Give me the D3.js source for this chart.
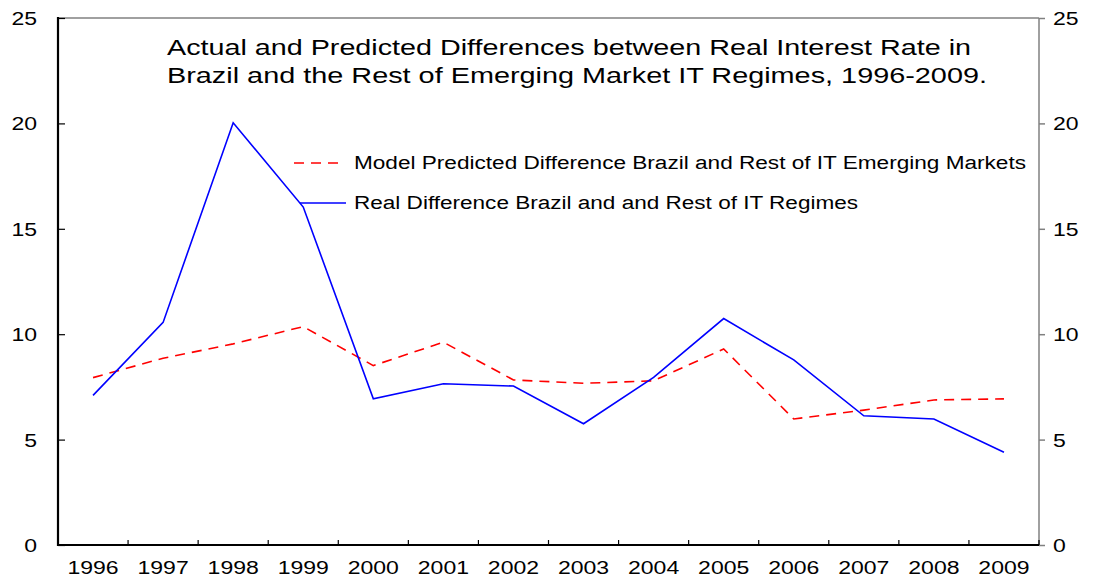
<!DOCTYPE html>
<html>
<head>
<meta charset="utf-8">
<script src="https://cdn.jsdelivr.net/npm/d3@7"></script>
<style>
  body { margin: 0; background: #fff; }
  text { font-family: "Liberation Sans", Arial, sans-serif; fill: #000; }
</style>
</head>
<body>
<svg id="chart" width="1094" height="579"></svg>
<script>
var years = ["1996", "1997", "1998", "1999", "2000", "2001", "2002",
  "2003", "2004", "2005", "2006", "2007", "2008", "2009"];
var predicted = [7.94, 8.86, 9.54, 10.36, 8.51, 9.62, 7.83, 7.67, 7.79, 9.30, 5.98, 6.40, 6.88, 6.93];
var actual = [7.10, 10.56, 20.03, 16.03, 6.94, 7.65, 7.54, 5.75, 7.95, 10.74, 8.78, 6.13, 5.98, 4.40];
var yTicks = [0, 5, 10, 15, 20, 25];
var titleLines = ["Actual and Predicted Differences between Real Interest Rate in",
  "Brazil and the Rest of Emerging Market IT Regimes, 1996-2009."];
var seriesNames = ["Model Predicted Difference Brazil and Rest of IT Emerging Markets",
  "Real Difference Brazil and and Rest of IT Regimes"];

var svg = d3.select("#chart");

var plotLeft = 58, plotRight = 1039, plotTop = 18, plotBottom = 545;
var digitW = 12.8; // the reference numbers are drawn wide

var x = d3.scaleBand().domain(years).range([plotLeft, plotRight]);
var y = d3.scaleLinear().domain([0, 25]).range([plotBottom, plotTop]);

// top and right border (grey)
svg.append("line").attr("x1", plotLeft).attr("x2", plotRight).attr("y1", plotTop).attr("y2", plotTop)
  .attr("stroke", "#808080").attr("stroke-width", 1.5);
svg.append("line").attr("x1", plotRight).attr("x2", plotRight).attr("y1", plotTop).attr("y2", plotBottom)
  .attr("stroke", "#808080").attr("stroke-width", 1.5);

// right axis, ticks outward
var rightAxis = d3.axisRight(y).tickValues(yTicks).tickSize(6);
var gr = svg.append("g").attr("transform", "translate(" + plotRight + ",0)").call(rightAxis);
gr.select(".domain").remove();
gr.selectAll(".tick line").attr("stroke", "#808080").attr("stroke-width", 1.5);
gr.selectAll(".tick text")
  .attr("x", 14).attr("dy", "0.36em")
  .style("font-size", "18px")
  .attr("textLength", function (d) { return String(d).length * digitW; })
  .attr("lengthAdjust", "spacingAndGlyphs");

// left axis, ticks inward
var leftAxis = d3.axisLeft(y).tickValues(yTicks).tickSize(-7);
var gl = svg.append("g").attr("transform", "translate(" + plotLeft + ",0)").call(leftAxis);
gl.select(".domain").remove();
gl.selectAll(".tick line").attr("stroke", "#000").attr("stroke-width", 1.2);
gl.selectAll(".tick text")
  .attr("x", -21).attr("dy", "0.36em")
  .style("font-size", "18px")
  .attr("textLength", function (d) { return String(d).length * digitW; })
  .attr("lengthAdjust", "spacingAndGlyphs");
svg.append("line").attr("x1", plotLeft).attr("x2", plotLeft).attr("y1", plotTop - 1).attr("y2", plotBottom + 1)
  .attr("stroke", "#000").attr("stroke-width", 2.2);

// bottom axis: ticks on category boundaries, pointing up
var gb = svg.append("g");
gb.selectAll("line").data(years).enter().append("line")
  .attr("x1", function (d) { return x(d) + x.bandwidth(); })
  .attr("x2", function (d) { return x(d) + x.bandwidth(); })
  .attr("y1", plotBottom).attr("y2", plotBottom - 5)
  .attr("stroke", "#000").attr("stroke-width", 1.2);
gb.selectAll("text").data(years).enter().append("text")
  .attr("x", function (d) { return x(d) + x.bandwidth() / 2 - 2 * digitW; })
  .attr("y", 574)
  .attr("textLength", 4 * digitW)
  .attr("lengthAdjust", "spacingAndGlyphs")
  .style("font-size", "18px")
  .text(function (d) { return d; });
svg.append("line").attr("x1", plotLeft - 1).attr("x2", plotRight).attr("y1", plotBottom).attr("y2", plotBottom)
  .attr("stroke", "#000").attr("stroke-width", 2.2);

// series
var line = d3.line()
  .x(function (d, i) { return x(years[i]) + x.bandwidth() / 2; })
  .y(function (d) { return y(d); });

svg.append("path").datum(predicted).attr("d", line)
  .attr("fill", "none").attr("stroke", "#ff0000").attr("stroke-width", 1.6)
  .attr("stroke-dasharray", "10,7");
svg.append("path").datum(actual).attr("d", line)
  .attr("fill", "none").attr("stroke", "#0000ff").attr("stroke-width", 1.6);

// title
svg.selectAll("text.title").data(titleLines).enter().append("text")
  .attr("class", "title")
  .attr("x", 167)
  .attr("y", function (d, i) { return 55 + i * 28; })
  .attr("textLength", function (d, i) { return i == 0 ? 804 : 820; })
  .attr("lengthAdjust", "spacingAndGlyphs")
  .style("font-size", "22px")
  .text(function (d) { return d; });

// legend
var legend = svg.append("g");
legend.append("line").attr("x1", 294).attr("x2", 342).attr("y1", 163).attr("y2", 163)
  .attr("stroke", "#ff0000").attr("stroke-width", 1.6).attr("stroke-dasharray", "10,7");
legend.append("line").attr("x1", 300).attr("x2", 346).attr("y1", 203).attr("y2", 203)
  .attr("stroke", "#0000ff").attr("stroke-width", 1.6);
legend.selectAll("text.leg").data(seriesNames).enter().append("text")
  .attr("class", "leg")
  .attr("x", 354)
  .attr("y", function (d, i) { return 169 + i * 40; })
  .attr("textLength", function (d, i) { return i == 0 ? 672 : 504; })
  .attr("lengthAdjust", "spacingAndGlyphs")
  .style("font-size", "18px")
  .text(function (d) { return d; });
</script>
</body>
</html>
